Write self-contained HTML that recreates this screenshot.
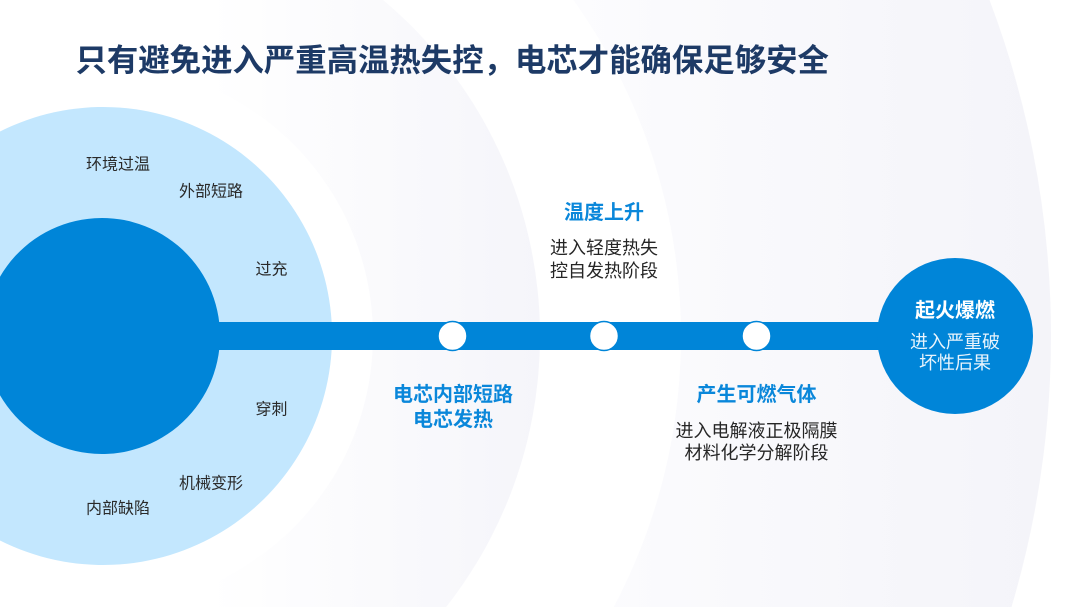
<!DOCTYPE html>
<html lang="zh">
<head>
<meta charset="utf-8">
<style>
html,body{margin:0;padding:0;background:#fff;width:1080px;height:607px;overflow:hidden}
svg{display:block}
text{font-family:"Liberation Sans","Noto Sans CJK SC",sans-serif;text-anchor:middle}
.t{font-size:31.4px;font-weight:700;fill:#1d3a66;text-anchor:start}
.s{font-size:16px;fill:#2a2a2a}
.h{font-size:20px;font-weight:700;fill:#0a87da}
.b{font-size:18px;fill:#262626}
.wh{font-size:20px;font-weight:700;fill:#fff}
.wb{font-size:18px;fill:#e8f4fc}
</style>
</head>
<body>
<svg width="1080" height="607" viewBox="0 0 1080 607" xmlns="http://www.w3.org/2000/svg">
<defs>
<linearGradient id="g1" gradientUnits="userSpaceOnUse" x1="560" y1="0" x2="1051" y2="0">
<stop offset="0" stop-color="#fcfcfe"/><stop offset="1" stop-color="#f4f4f9"/>
</linearGradient>
<linearGradient id="g2" gradientUnits="userSpaceOnUse" x1="210" y1="0" x2="540" y2="0">
<stop offset="0" stop-color="#ffffff"/><stop offset="1" stop-color="#f5f5fa"/>
</linearGradient>
</defs>
<rect width="1080" height="607" fill="#fff"/>
<path d="M0 0H989.5A949 949 0 0 1 1011.5 607H0Z" fill="url(#g1)"/>
<path d="M0 0H573.5A579 579 0 0 1 613.7 607H0Z" fill="#fff"/>
<path d="M0 0H383A438 438 0 0 1 446.1 607H0Z" fill="url(#g2)"/>
<path d="M0 84.9A271 271 0 1 1 0 587.1Z" fill="#fff"/>
<path d="M0 131.5A229 229 0 1 1 0 540.5Z" fill="#c3e7fe"/>
<path d="M0 276.7A118 118 0 1 1 0 395.3Z" fill="#0085d8"/>
<rect x="215" y="322" width="690" height="28" fill="#0085d8"/>
<circle cx="955" cy="336" r="78" fill="#0085d8"/>
<g fill="#fff" stroke="#0085d8" stroke-width="1.5">
<circle cx="452.5" cy="336" r="14.5"/>
<circle cx="604" cy="336" r="14.5"/>
<circle cx="756.5" cy="336" r="14.5"/>
</g>
<text class="t" x="75.5" y="71">只有避免进入严重高温热失控，电芯才能确保足够安全</text>
<text class="s" x="118" y="169.5">环境过温</text>
<text class="s" x="211" y="196.5">外部短路</text>
<text class="s" x="271.5" y="274.5">过充</text>
<text class="s" x="271.5" y="414.5">穿刺</text>
<text class="s" x="211" y="488.5">机械变形</text>
<text class="s" x="118" y="513.5">内部缺陷</text>
<text class="h" x="604" y="219">温度上升</text>
<text class="b" x="604" y="254">进入轻度热失</text>
<text class="b" x="604" y="277">控自发热阶段</text>
<text class="h" x="453" y="401">电芯内部短路</text>
<text class="h" x="453" y="426">电芯发热</text>
<text class="h" x="756.5" y="401">产生可燃气体</text>
<text class="b" x="756.5" y="437">进入电解液正极隔膜</text>
<text class="b" x="756.5" y="459">材料化学分解阶段</text>
<text class="wh" x="955" y="317">起火爆燃</text>
<text class="wb" x="955" y="348">进入严重破</text>
<text class="wb" x="955" y="369">坏性后果</text>
</svg>
</body>
</html>
